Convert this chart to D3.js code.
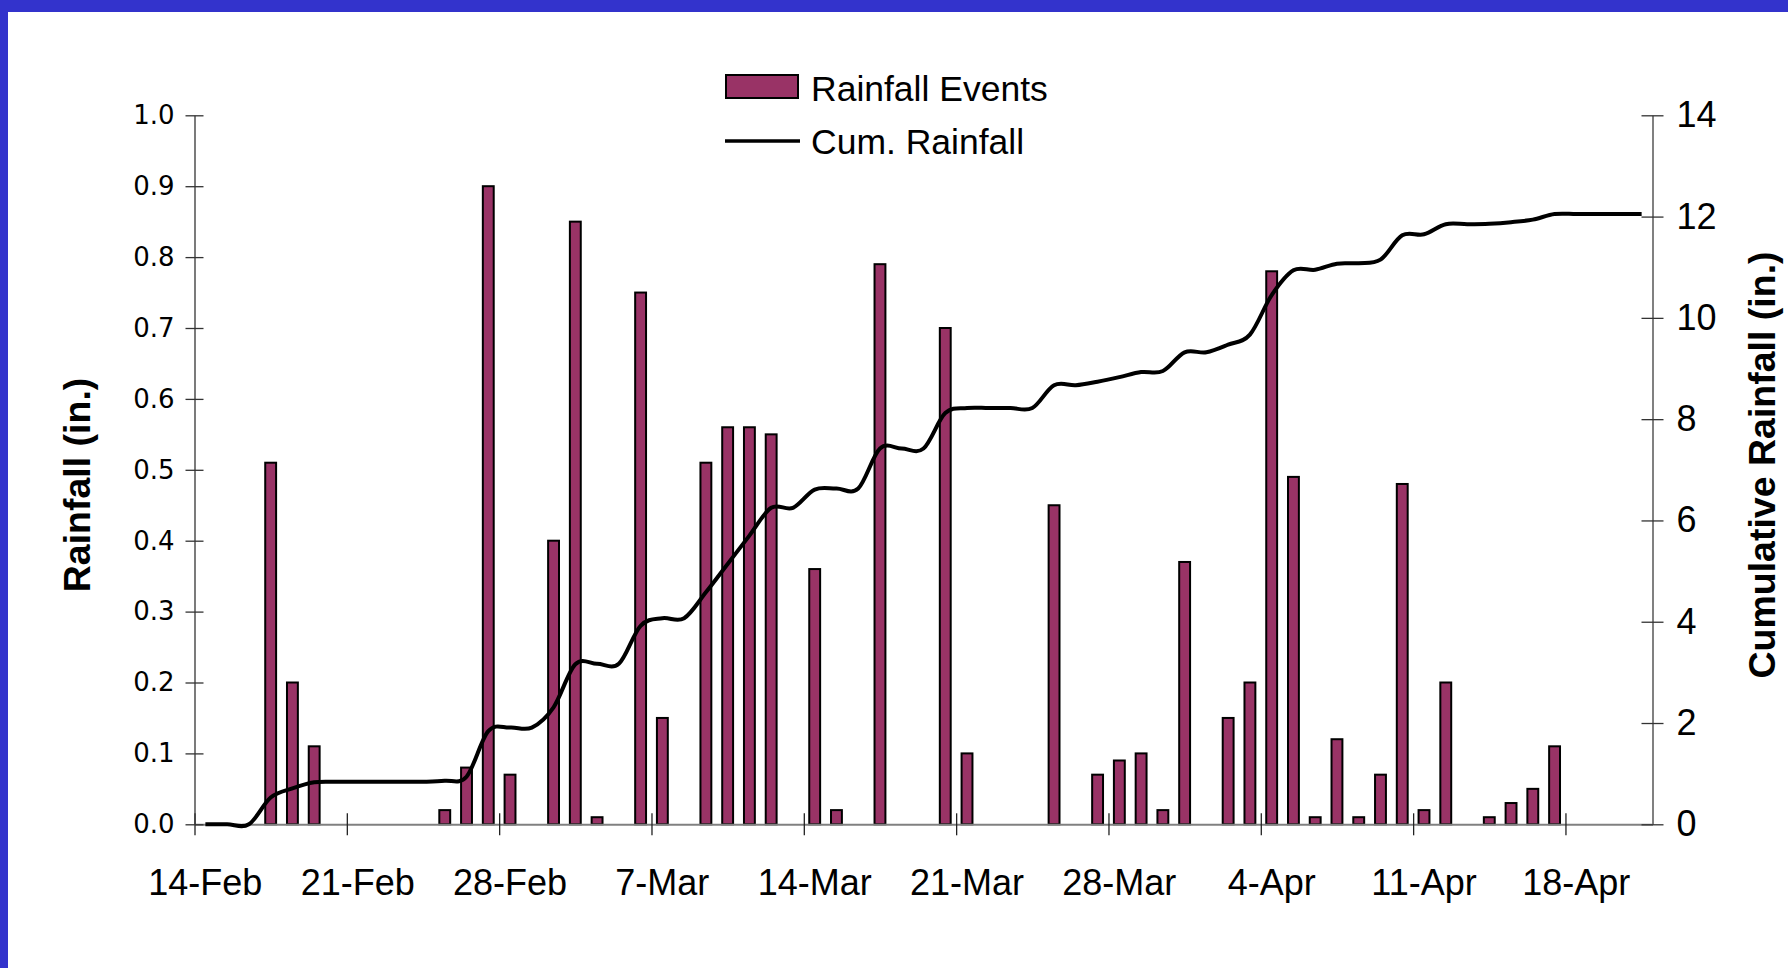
<!DOCTYPE html>
<html lang="en">
<head>
<meta charset="utf-8">
<style>
body { margin: 0; background: #fff; }
svg { display: block; font-family: "Liberation Sans", Arial, sans-serif; }
</style>
<script src="https://cdn.jsdelivr.net/npm/d3@7"></script>
</head>
<body>
<svg width="1788" height="968"></svg>
<script>

// daily rainfall events (in.)
var eventDates = ["17-Feb","18-Feb","19-Feb","25-Feb","26-Feb","27-Feb","28-Feb",
  "2-Mar","3-Mar","4-Mar","6-Mar","7-Mar","9-Mar","10-Mar","11-Mar","12-Mar","14-Mar","15-Mar",
  "17-Mar","20-Mar","21-Mar","25-Mar","27-Mar","28-Mar","29-Mar","30-Mar","31-Mar",
  "2-Apr","3-Apr","4-Apr","5-Apr","6-Apr","7-Apr","8-Apr","9-Apr","10-Apr","11-Apr","12-Apr",
  "14-Apr","15-Apr","16-Apr","17-Apr"];
var eventRain = [0.51,0.20,0.11,0.02,0.08,0.90,0.07,
  0.40,0.85,0.01,0.75,0.15,0.51,0.56,0.56,0.55,0.36,0.02,
  0.79,0.70,0.10,0.45,0.07,0.09,0.10,0.02,0.37,
  0.15,0.20,0.78,0.49,0.01,0.12,0.01,0.07,0.48,0.02,0.20,
  0.01,0.03,0.05,0.11];

// cumulative rainfall (in.), one value a day from 14-Feb to 21-Apr
var cumStart = "14-Feb";
var cumRain = [0,0,0,0.53,0.71,0.83,0.84,0.84,0.84,0.84,0.84,
  0.86,0.94,1.84,1.91,1.91,
  2.31,3.16,3.17,3.17,3.92,4.07,4.07,4.58,5.14,5.70,6.25,6.25,6.61,6.63,6.63,
  7.42,7.42,7.42,8.12,8.22,8.22,8.22,8.22,8.67,8.67,
  8.74,8.83,8.93,8.95,9.32,9.32,9.47,9.67,10.45,10.94,
  10.95,11.07,11.08,11.15,11.63,11.65,11.85,11.85,11.86,11.89,
  11.94,12.05,12.05,12.05,12.05,12.05];

var xTickLabels = ["14-Feb","21-Feb","28-Feb","7-Mar","14-Mar","21-Mar","28-Mar","4-Apr","11-Apr","18-Apr"];
var axisEnd = "22-Apr";
var leftTicks = [0,0.1,0.2,0.3,0.4,0.5,0.6,0.7,0.8,0.9,1.0];
var rightTicks = [0,2,4,6,8,10,12,14];

var svg = d3.select("svg"),
    width = +svg.attr("width"),
    height = +svg.attr("height");

var parse = d3.utcParse("%d-%b");
function mid(d) { return d3.utcHour.offset(d, 12); }

svg.append("rect").attr("width", width).attr("height", height).attr("fill", "#fff");
// blue frame of the slide
svg.append("rect").attr("width", width).attr("height", 12).attr("fill", "#3333cc");
svg.append("rect").attr("width", 8).attr("height", height).attr("fill", "#3333cc");

var x = d3.scaleUtc()
    .domain([parse(cumStart), parse(axisEnd)])
    .range([194.5, 1652.5]);
var yL = d3.scaleLinear().domain([0, 1]).range([824.3, 115.3]);
var yR = d3.scaleLinear().domain([0, 14]).range([824.3, 115.3]);

var dayW = x(parse("15-Feb")) - x(parse("14-Feb"));
var barW = dayW * 0.5;

// bars
var events = eventDates.map(function(d, i) { return {date: parse(d), v: eventRain[i]}; });
svg.append("g").selectAll("rect")
  .data(events)
  .enter().append("rect")
    .attr("x", function(d) { return x(mid(d.date)) - barW / 2; })
    .attr("y", function(d) { return yL(d.v); })
    .attr("width", barW)
    .attr("height", function(d) { return yL(0) - yL(d.v); })
    .attr("fill", "#993366")
    .attr("stroke", "#000")
    .attr("stroke-width", 2);

// bottom axis
var weekDates = xTickLabels.map(parse);
var gx = svg.append("g")
    .attr("transform", "translate(0," + yL(0) + ")")
    .call(d3.axisBottom(x).tickValues(weekDates).tickFormat("").tickSizeOuter(0).tickSizeInner(11));
gx.select(".domain").attr("stroke", "#808080").attr("stroke-width", 2);
gx.selectAll(".tick line").attr("y1", -11).attr("stroke", "#222").attr("stroke-width", 1.3);

svg.append("g").selectAll("text")
  .data(weekDates)
  .enter().append("text")
    .attr("x", function(d) { return x(mid(d)); })
    .attr("y", 895)
    .attr("text-anchor", "middle")
    .attr("font-size", 36)
    .attr("fill", "#000")
    .text(function(d, i) { return xTickLabels[i]; });

// left axis
var gl = svg.append("g")
    .attr("transform", "translate(" + x(parse(cumStart)) + ",0)")
    .call(d3.axisLeft(yL).tickValues(leftTicks).tickFormat(d3.format(".1f")).tickSizeOuter(0).tickSizeInner(9).tickPadding(11));
gl.select(".domain").attr("stroke", "#333").attr("stroke-width", 1.3);
gl.selectAll(".tick line").attr("x1", 9).attr("stroke", "#333").attr("stroke-width", 1.3);
gl.selectAll(".tick text").attr("font-size", 26).attr("font-family", "DejaVu Sans").attr("fill", "#000");

// right axis
var gr = svg.append("g")
    .attr("transform", "translate(" + x(parse(axisEnd)) + ",0)")
    .call(d3.axisRight(yR).tickValues(rightTicks).tickSizeOuter(0).tickSizeInner(11).tickPadding(13));
gr.select(".domain").attr("stroke", "#808080").attr("stroke-width", 2);
gr.selectAll(".tick line").attr("x1", -11).attr("stroke", "#333").attr("stroke-width", 1.3);
gr.selectAll(".tick text").attr("font-size", 36).attr("fill", "#000");

// cumulative line
var cum = d3.utcDay.range(parse(cumStart), parse(axisEnd)).map(function(d, i) { return {date: d, v: cumRain[i]}; });
var line = d3.line()
    .x(function(d) { return x(mid(d.date)); })
    .y(function(d) { return yR(d.v); })
    .curve(d3.curveCatmullRom.alpha(0));
svg.append("path")
    .datum(cum)
    .attr("d", line)
    .attr("fill", "none")
    .attr("stroke", "#000")
    .attr("stroke-width", 4)
    .attr("stroke-linejoin", "round");

// axis titles
svg.append("text")
    .attr("transform", "translate(90,485) rotate(-90)")
    .attr("text-anchor", "middle")
    .attr("font-size", 37.5)
    .attr("font-weight", "bold")
    .text("Rainfall (in.)");
svg.append("text")
    .attr("transform", "translate(1775,465) rotate(-90)")
    .attr("text-anchor", "middle")
    .attr("font-size", 37.5)
    .attr("font-weight", "bold")
    .text("Cumulative Rainfall (in.)");

// legend
var lg = svg.append("g");
lg.append("rect")
    .attr("x", 726).attr("y", 75).attr("width", 72).attr("height", 23)
    .attr("fill", "#993366").attr("stroke", "#000").attr("stroke-width", 2);
lg.append("text").attr("x", 811).attr("y", 101).attr("font-size", 35.5).text("Rainfall Events");
lg.append("line")
    .attr("x1", 725).attr("x2", 800).attr("y1", 141).attr("y2", 141)
    .attr("stroke", "#000").attr("stroke-width", 3.5);
lg.append("text").attr("x", 811).attr("y", 154).attr("font-size", 35.5).text("Cum. Rainfall");

</script>
</body>
</html>
